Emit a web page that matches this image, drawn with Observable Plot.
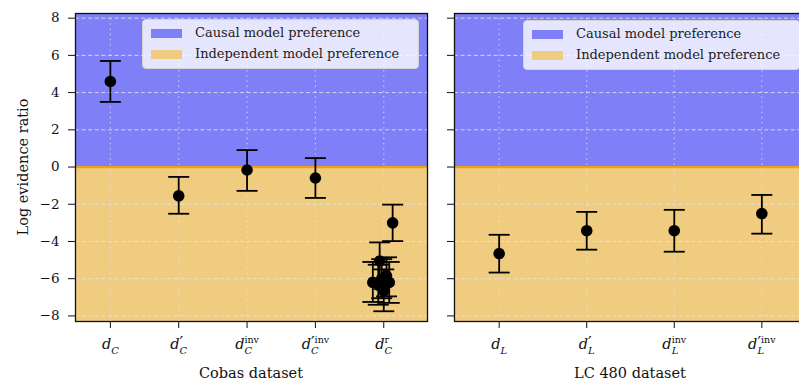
<!DOCTYPE html>
<html><head><meta charset="utf-8">
<script src="https://cdn.jsdelivr.net/npm/d3@7"></script>
<script src="https://cdn.jsdelivr.net/npm/@observablehq/plot@0.6"></script>
<style>
html,body{margin:0;padding:0;background:#fff;overflow:hidden;}
#chart{position:relative;width:799px;height:383px;overflow:hidden;font-family:"DejaVu Serif",serif;color:#111;}
.panel{position:absolute;top:0;}
.legend{position:absolute;background:rgba(255,255,255,0.8);border:1px solid #d4d4d4;border-radius:4px;box-sizing:border-box;font-family:"DejaVu Serif",serif;font-size:13px;color:#222;}
.legend .row{position:absolute;left:0;height:16px;line-height:16px;white-space:nowrap;}
.legend .sw{position:absolute;left:8px;top:3.5px;width:31px;height:9px;}
.legend .lab{position:absolute;left:52px;top:0;}
.xlabel{position:absolute;transform:translate(-50%,-50%);white-space:nowrap;font-family:"DejaVu Serif",serif;font-size:14.5px;line-height:18px;}
.ylabel{position:absolute;transform:translate(-50%,-50%) rotate(-90deg);white-space:nowrap;font-family:"DejaVu Serif",serif;font-size:14.5px;line-height:18px;}
</style>
</head><body>
<div id="chart"></div>
<script>
// ---------- data ----------
const yTicks = [-8, -6, -4, -2, 0, 2, 4, 6, 8];
const yDomain = [-8.3, 8.25];

const regionNames = ["Causal model preference", "Independent model preference"];
const regionColors = ["#7f7ff8", "#f0cc80"];
const zeroLineColor = "#eda21a";

// Cobas dataset
const cobasTicks = [0, 1, 2, 3, 4];
const cobasTickLabels = [
  {prime: false, sup: "", sub: "C"},
  {prime: true, sup: "", sub: "C"},
  {prime: false, sup: "inv", sub: "C"},
  {prime: true, sup: "inv", sub: "C"},
  {prime: false, sup: "r", sub: "C"}
];
const cobasX    = [0, 1, 2, 3, 4.13, 3.94, 3.84, 4.08, 4.00, 3.97, 3.92, 4.04];
const cobasMean = [4.6, -1.55, -0.16, -0.59, -3.0, -5.05, -6.2, -6.2, -6.65, -6.0, -6.35, -5.85];
const cobasLow  = [3.5, -2.51, -1.28, -1.66, -3.98, -6.1, -7.25, -7.3, -7.75, -7.05, -7.4, -6.95];
const cobasHigh = [5.7, -0.53, 0.91, 0.48, -2.02, -4.05, -5.1, -5.1, -5.5, -4.95, -5.25, -4.85];

// LC 480 dataset
const lcTicks = [0, 1, 2, 3];
const lcTickLabels = [
  {prime: false, sup: "", sub: "L"},
  {prime: true, sup: "", sub: "L"},
  {prime: false, sup: "inv", sub: "L"},
  {prime: true, sup: "inv", sub: "L"}
];
const lcX    = [0, 1, 2, 3];
const lcMean = [-4.65, -3.42, -3.42, -2.5];
const lcLow  = [-5.67, -4.44, -4.55, -3.58];
const lcHigh = [-3.64, -2.41, -2.3, -1.5];

// ---------- helpers ----------
const capSymbol = {
  draw(ctx, size) {
    const r = Math.sqrt(size / Math.PI);
    ctx.moveTo(-r, 0);
    ctx.lineTo(r, 0);
  }
};

function rows(xs, mean, low, high) {
  return xs.map((x, i) => ({x, mean: mean[i], low: low[i], high: high[i]}));
}

function makePanel({data, ticks, xDomain, width, marginLeft, marginRight, showYLabels}) {
  const regions = [
    {name: regionNames[0], from: 0, to: yDomain[1]},
    {name: regionNames[1], from: yDomain[0], to: 0}
  ];
  return Plot.plot({
    width, height: 383,
    marginLeft, marginRight, marginTop: 13, marginBottom: 62,
    style: {fontFamily: "'DejaVu Serif', serif", fontSize: "13.5px", color: "#111", background: "transparent"},
    x: {type: "linear", domain: xDomain},
    y: {domain: yDomain},
    color: {domain: regionNames, range: regionColors},
    marks: [
      Plot.rect(regions, {x1: () => xDomain[0], x2: () => xDomain[1], y1: "from", y2: "to", fill: "name"}),
      Plot.gridY({ticks: yTicks, stroke: "#e4e4e4", strokeOpacity: 0.85, strokeWidth: 1, strokeDasharray: "4,2.6"}),
      Plot.gridX({ticks, stroke: "#e4e4e4", strokeOpacity: 0.85, strokeWidth: 1.2, strokeDasharray: "1.2,4"}),
      Plot.ruleY([0], {stroke: zeroLineColor, strokeWidth: 2.2}),
      Plot.ruleX(data, {x: "x", y1: "low", y2: "high", stroke: "black", strokeWidth: 1.8}),
      Plot.dot(data, {x: "x", y: "low", symbol: capSymbol, r: 10.5, fill: "none", stroke: "black", strokeWidth: 1.8}),
      Plot.dot(data, {x: "x", y: "high", symbol: capSymbol, r: 10.5, fill: "none", stroke: "black", strokeWidth: 1.8}),
      Plot.dot(data, {x: "x", y: "mean", r: 5.8, fill: "black", stroke: "none"}),
      Plot.axisY({ticks: yTicks, tickSize: 7, tickPadding: 9, label: null,
        tickFormat: showYLabels ? (d => d < 0 ? "\u2212" + Math.abs(d) : String(d)) : (() => " ")}),
      Plot.axisX({ticks, tickSize: 7, tickPadding: 11, label: null, tickFormat: d => "d" + d}),
      Plot.frame({stroke: "#111", strokeWidth: 1.3})
    ]
  });
}

function decorateTicks(svg, labels) {
  const NS = "http://www.w3.org/2000/svg";
  const texts = svg.querySelectorAll('g[aria-label="x-axis tick label"] text');
  texts.forEach((t, i) => {
    const lab = labels[i];
    if (!lab) return;
    while (t.firstChild) t.removeChild(t.firstChild);
    const mk = (txt, attrs) => {
      const s = document.createElementNS(NS, "tspan");
      for (const k in attrs) s.setAttribute(k, attrs[k]);
      s.textContent = txt;
      t.appendChild(s);
      return s;
    };
    mk("d", {"font-style": "italic", "font-size": "14.5px"});
    let raise = 0, width = 0;
    if (lab.prime) {
      const p = mk("\u2032", {"font-size": "16px", "dy": "-1"});
      raise = 1;
      width += p.getComputedTextLength();
    }
    if (lab.sup) {
      const s = mk(lab.sup, {"font-size": "9.5px", "dy": String(-6.5 + raise)});
      raise = 6.5;
      width += s.getComputedTextLength();
    }
    const subAttrs = {"font-size": "10px", "font-style": "italic", "dy": String(4.5 + raise)};
    if (width) subAttrs.dx = String(-width);
    mk(lab.sub, subAttrs);
  });
}

function addLegend(container, left, top) {
  const box = document.createElement("div");
  box.className = "legend";
  Object.assign(box.style, {left: left + "px", top: top + "px", width: "277px", height: "50px"});
  regionNames.forEach((name, i) => {
    const row = document.createElement("div");
    row.className = "row";
    row.style.top = (5 + i * 21) + "px";
    row.style.width = "100%";
    const sw = document.createElement("div");
    sw.className = "sw";
    sw.style.background = regionColors[i];
    const lab = document.createElement("div");
    lab.className = "lab";
    lab.textContent = name;
    row.appendChild(sw); row.appendChild(lab);
    box.appendChild(row);
  });
  container.appendChild(box);
}

function addText(container, cls, text, x, y) {
  const d = document.createElement("div");
  d.className = cls;
  d.textContent = text;
  d.style.left = x + "px";
  d.style.top = y + "px";
  container.appendChild(d);
}

// ---------- build ----------
const chart = document.getElementById("chart");

const left = makePanel({
  data: rows(cobasX, cobasMean, cobasLow, cobasHigh),
  ticks: cobasTicks, xDomain: [-0.51, 4.64],
  width: 440, marginLeft: 75, marginRight: 13, showYLabels: true
});
left.classList.add("panel");
left.style.left = "0px";
chart.appendChild(left);

const right = makePanel({
  data: rows(lcX, lcMean, lcLow, lcHigh),
  ticks: lcTicks, xDomain: [-0.51, 3.51],
  width: 366, marginLeft: 14, marginRight: 0, showYLabels: false
});
right.classList.add("panel");
right.style.left = "440px";
chart.appendChild(right);

decorateTicks(left, cobasTickLabels);
decorateTicks(right, lcTickLabels);

addLegend(chart, 142, 19);
addLegend(chart, 523, 20);

addText(chart, "xlabel", "Cobas dataset", 251, 373);
addText(chart, "xlabel", "LC 480 dataset", 630, 373);
addText(chart, "ylabel", "Log evidence ratio", 23, 167);
</script>
</body></html>
